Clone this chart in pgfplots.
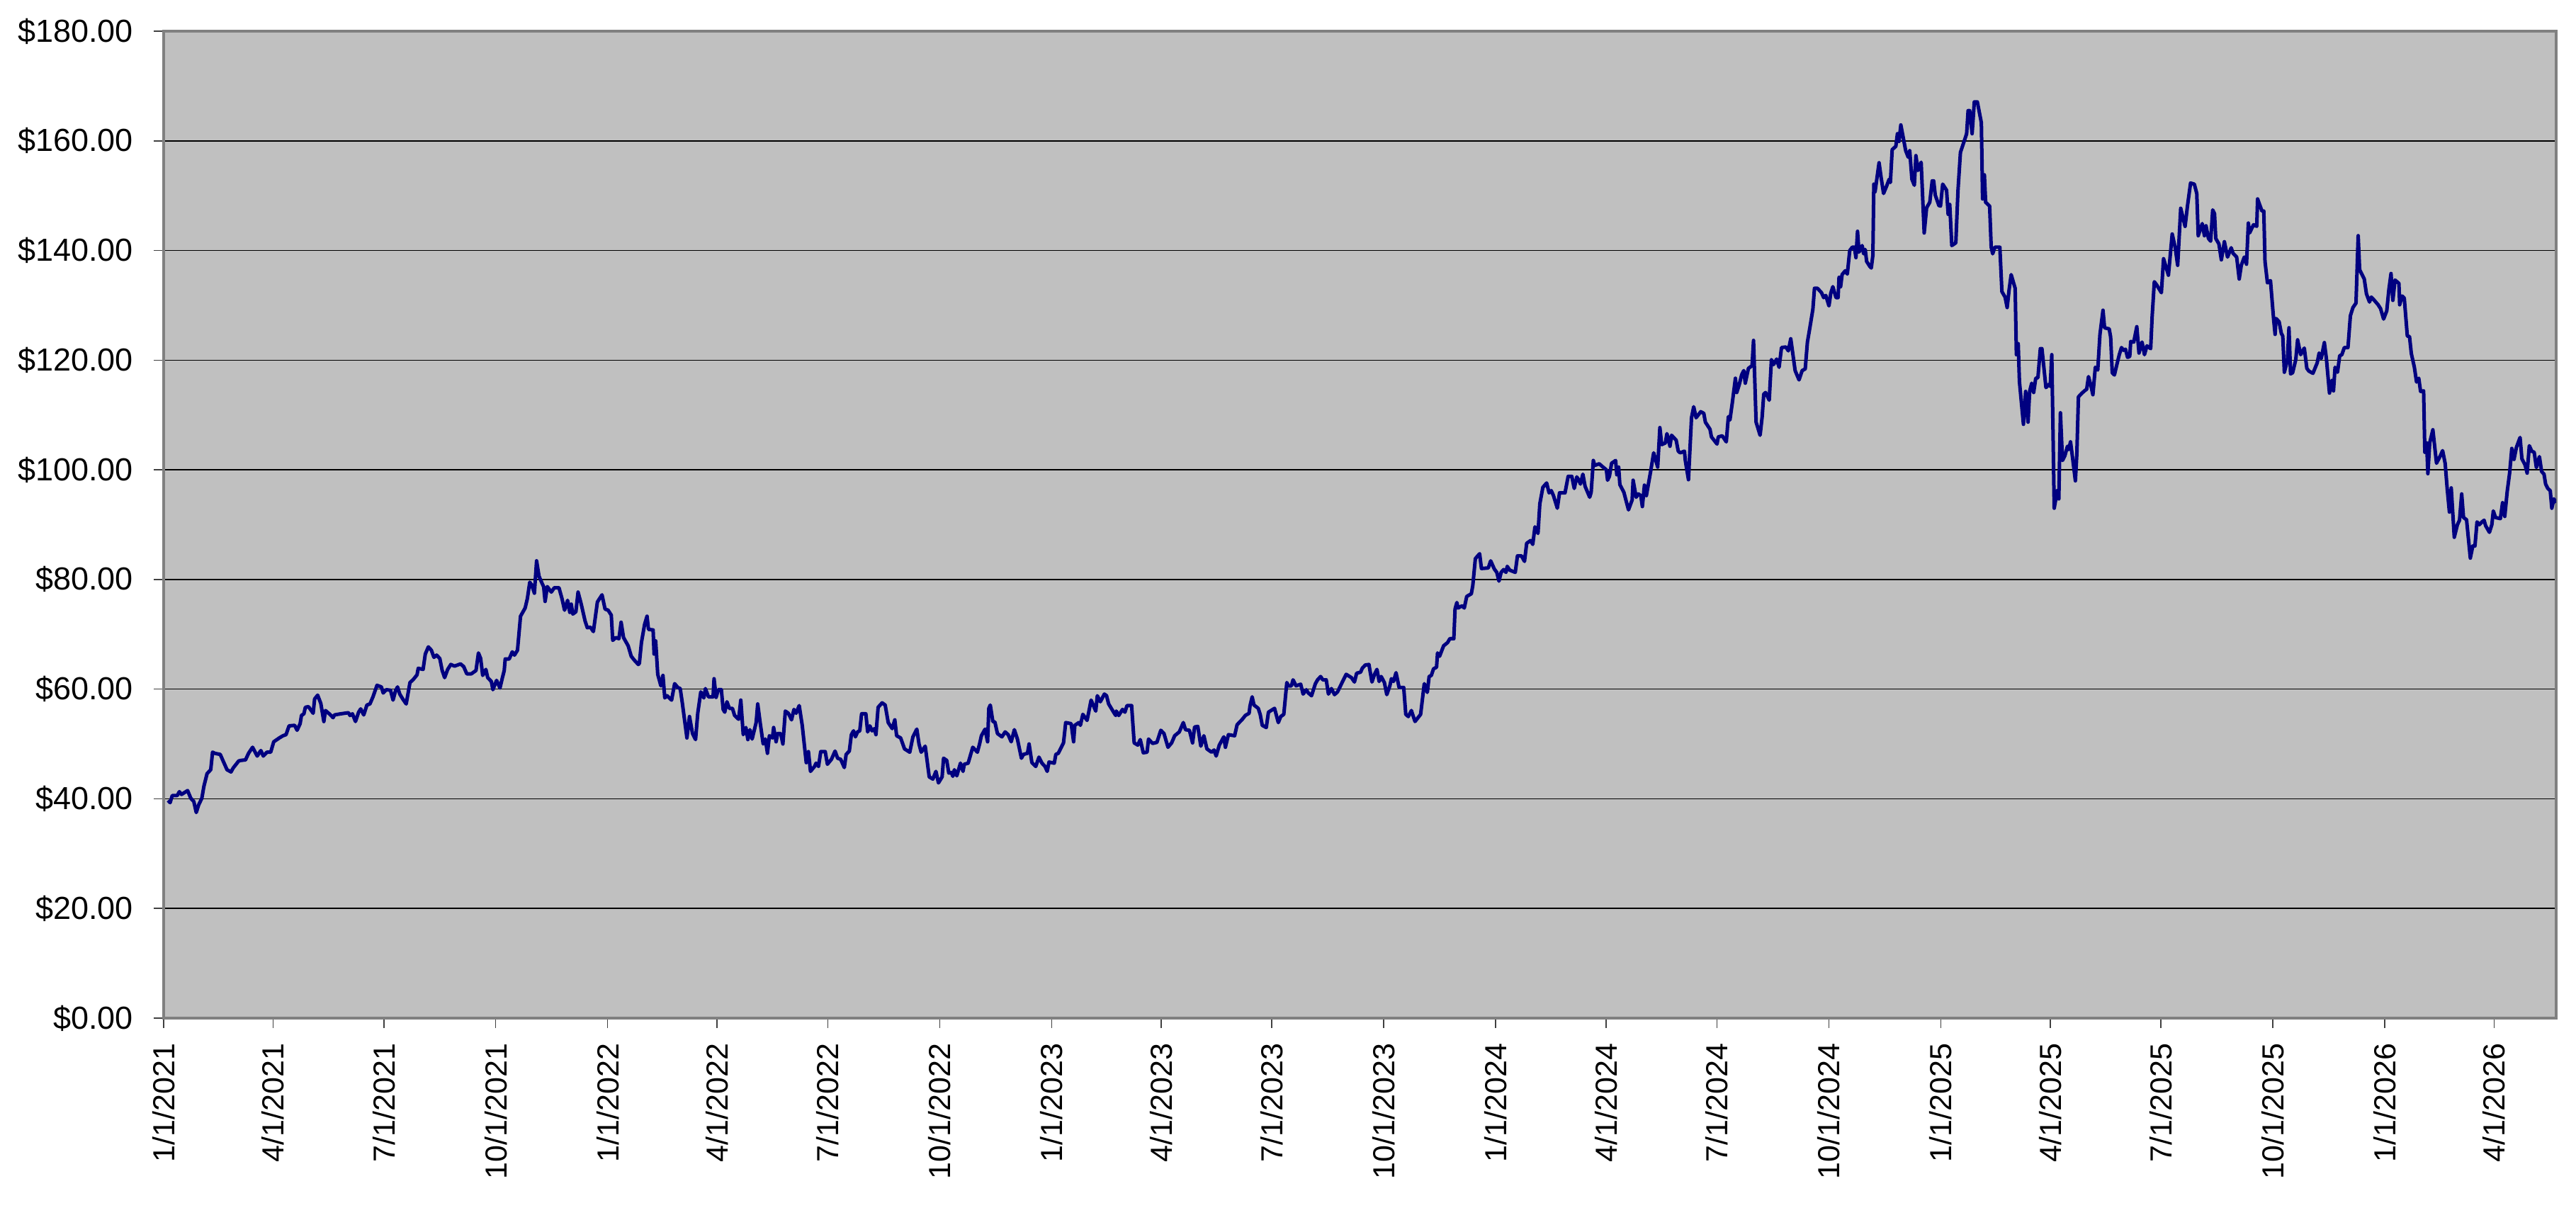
\documentclass[border=0pt]{standalone}
\usepackage{fontspec}
\setmainfont{Liberation Sans}
\usepackage{pgfplots}
\pgfplotsset{compat=1.18}
\definecolor{navyline}{RGB}{0,0,128}
\definecolor{plotbg}{RGB}{192,192,192}
\definecolor{framegray}{RGB}{128,128,128}
\begin{document}
\begin{tikzpicture}
\begin{axis}[name=ax, scale only axis, width=675.4pt, height=278.6pt,
  xmin=0, xmax=1967, ymin=0, ymax=180,
  axis background/.style={fill=plotbg},
  axis line style={draw=framegray, line width=0.9pt},
  ytick={0,20,40,60,80,100,120,140,160,180},
  yticklabels={\$0.00,\$20.00,\$40.00,\$60.00,\$80.00,\$100.00,\$120.00,\$140.00,\$160.00,\$180.00},
  xtick={0,90,181,273,365,455,546,638,730,820,911,1003,1095,1186,1277,1369,1461,1551,1642,1734,1826,1916},
  xticklabels={1/1/2021,4/1/2021,7/1/2021,10/1/2021,1/1/2022,4/1/2022,7/1/2022,10/1/2022,1/1/2023,4/1/2023,7/1/2023,10/1/2023,1/1/2024,4/1/2024,7/1/2024,10/1/2024,1/1/2025,4/1/2025,7/1/2025,10/1/2025,1/1/2026,4/1/2026},
  tick align=outside, major tick length=2.8pt,
  tick style={black!75, line width=0.3pt},
  xtick pos=left, ytick pos=left,
  ymajorgrids, grid style={black, line width=0.3pt},
  yticklabel style={font=\fontsize{9}{10.8}\selectfont, inner sep=0pt},
  xticklabel style={font=\fontsize{8.6}{10}\selectfont, rotate=90, anchor=east, inner sep=0pt},
  yticklabel shift=5.6pt, xticklabel shift=4.2pt,
]
\addplot[navyline, line width=1pt, line join=round] coordinates {
(3.6,39.7)(5.3,39.3)(7.1,40.6)(11.2,40.6)(12.9,41.3)(14.7,40.8)(19.7,41.5)(22.3,40.1)(24.8,39.5)(26.8,37.5)(28.8,38.9)(31.4,40.1)(33.1,42.3)(35.7,44.6)(38.7,45.3)(40.2,48.5)(42.0,48.3)(46.5,48.1)(52.1,45.3)(55.4,44.9)(57.1,45.6)(61.7,46.9)(63.5,47.0)(67.3,47.1)(69.8,48.3)(73.1,49.4)(76.9,47.8)(79.9,48.8)(81.9,47.8)(84.9,48.5)(88.0,48.5)(90.5,50.4)(95.1,51.1)(98.1,51.5)(100.6,51.7)(103.1,53.3)(107.7,53.4)(109.7,52.5)(112.2,53.7)(113.3,55.2)(115.3,55.5)(116.5,56.7)(119.1,56.8)(122.9,55.6)(124.1,58.2)(126.6,58.9)(129.2,57.4)(131.7,54.1)(133.0,56.1)(136.7,55.4)(139.3,54.8)(140.5,55.3)(145.6,55.5)(151.9,55.7)(153.2,55.2)(155.2,55.5)(157.7,54.1)(160.3,55.8)(162.0,56.4)(164.5,55.3)(167.1,57.1)(169.6,57.3)(172.1,58.6)(175.4,60.7)(179.0,60.4)(180.5,59.3)(183.0,59.9)(186.5,59.8)(188.6,58.0)(190.6,59.7)(192.3,60.4)(194.1,59.1)(196.6,58.2)(199.4,57.3)(202.5,61.2)(205.0,61.7)(208.3,62.6)(209.3,63.8)(213.3,63.6)(215.1,66.4)(217.6,67.7)(220.1,67.1)(222.2,65.8)(224.4,66.2)(227.0,65.6)(229.0,63.4)(231.0,62.1)(233.5,63.6)(236.1,64.5)(239.1,64.2)(244.1,64.6)(246.7,64.1)(249.2,62.8)(253.0,62.8)(256.8,63.4)(258.8,66.6)(260.6,65.6)(262.3,62.5)(264.9,63.6)(266.4,62.1)(269.4,61.4)(270.7,59.9)(273.7,61.6)(276.5,60.2)(278.3,61.9)(280.0,63.4)(280.8,65.5)(284.1,65.5)(286.6,66.8)(288.4,66.2)(290.9,67.1)(293.4,73.3)(297.2,74.8)(299.0,76.5)(301.0,79.5)(302.8,78.9)(304.8,77.5)(306.6,83.4)(308.6,80.6)(311.1,79.3)(312.4,78.7)(313.6,76.0)(315.4,78.7)(318.7,77.7)(321.2,78.5)(325.0,78.5)(327.5,76.5)(329.6,74.4)(332.1,76.2)(333.9,74.0)(335.1,75.5)(336.4,73.7)(338.9,74.1)(340.7,77.7)(343.2,75.6)(346.5,72.4)(348.3,71.2)(350.8,71.3)(353.3,70.5)(356.6,75.9)(360.4,77.2)(362.9,74.6)(365.4,74.4)(368.0,73.5)(369.2,68.9)(371.8,69.4)(374.3,69.2)(376.1,72.2)(378.1,69.4)(381.9,67.9)(384.4,66.0)(386.9,65.3)(390.2,64.5)
(391.1,64.7)(392.8,68.5)(395.4,71.8)(397.4,73.3)(398.6,70.9)(402.4,70.8)(403.2,66.4)(404.5,68.8)(406.2,62.7)(408.8,60.6)(410.5,62.5)(412.0,58.4)(413.8,58.8)(417.6,58.0)(420.1,61.0)(422.7,60.3)(424.7,60.1)(426.4,57.5)(430.2,51.1)(432.3,55.0)(434.8,51.9)(437.3,50.8)(439.1,55.6)(441.6,59.5)(444.1,58.4)(445.4,60.1)(447.9,58.6)(451.7,58.6)(452.5,61.9)(454.2,58.5)(456.0,59.9)(458.5,59.9)(460.0,56.3)(461.3,55.8)(463.1,57.7)(465.1,56.5)(467.6,56.5)(469.4,55.2)(472.7,54.5)(474.5,58.0)(476.5,51.7)(478.7,53.0)(480.3,50.8)(482.0,52.6)(483.8,50.9)(487.1,53.9)(488.4,57.3)(490.4,53.9)(492.9,50.0)(494.7,50.9)(496.4,48.3)(498.0,51.5)(500.5,51.1)(501.5,53.0)(503.5,50.4)(504.8,51.9)(507.3,51.9)(509.1,50.0)(511.1,56.0)(513.6,55.6)(516.2,54.4)(518.2,56.3)(520.0,55.6)(522.5,57.0)(525.0,53.4)(528.3,46.6)(530.1,48.6)(531.8,45.0)(535.1,45.9)(536.4,46.5)(538.4,45.9)(540.2,48.6)(543.9,48.6)(545.7,46.3)(549.0,47.2)(552.0,48.7)(554.1,47.4)(556.6,47.2)(559.6,45.7)(561.1,48.1)(563.7,48.7)(565.4,51.7)(567.2,52.4)(568.7,51.3)(570.5,52.2)(572.3,52.4)(573.8,55.5)(577.3,55.5)(578.8,52.2)(580.6,53.3)(582.4,52.4)(584.4,52.8)(585.6,51.7)(587.4,56.7)(590.7,57.5)(593.2,57.1)(595.7,53.9)(599.0,52.8)(601.1,54.4)(602.6,51.5)(605.9,51.1)(609.1,49.1)(613.4,48.5)(616.0,51.3)(619.2,52.7)(621.0,50.0)(622.8,48.5)(626.1,49.6)(629.4,44.0)(632.4,43.6)(634.9,45.0)(637.0,42.9)(640.0,44.0)(641.2,47.4)(643.8,47.0)(645.5,44.7)(647.6,44.8)(648.8,44.1)(650.1,45.3)(652.1,44.2)(655.1,46.5)(657.2,45.0)(658.2,46.3)(661.4,46.5)(665.2,49.4)(669.0,48.5)(670.8,50.0)(672.3,51.5)(675.3,52.7)(677.4,50.4)(678.4,56.5)(679.6,57.1)(681.7,54.1)(683.4,54.0)(685.5,51.9)(689.2,51.3)(691.8,52.2)(694.3,51.7)(696.8,50.4)(699.4,52.6)(701.9,50.9)(705.2,47.4)(706.9,48.1)(710.2,48.3)(711.5,50.0)(713.8,46.6)(717.0,45.9)(719.6,47.6)(722.1,46.5)(724.6,45.9)(726.4,45.0)(727.9,46.7)(732.2,46.5)(733.5,48.1)(735.5,48.3)(739.8,50.2)(741.6,53.9)(746.1,53.7)(748.1,50.4)(749.1,53.4)(752.4,53.9)(753.7,53.4)(755.7,55.4)(759.2,54.3)(762.5,58.0)(766.3,56.0)(767.6,58.8)(770.1,57.7)(773.4,59.1)(775.2,58.8)(776.9,57.3)(781.0,55.8)(782.7,55.2)
(783.2,56.0)(785.2,55.2)(788.3,56.3)(790.3,55.8)(792.0,57.0)(795.8,57.0)(797.9,50.2)(800.9,49.8)(802.9,50.8)(805.4,48.4)(808.5,48.5)(809.7,50.9)(813.0,50.1)(816.6,50.3)(819.8,52.5)(822.4,51.9)(825.7,49.4)(828.7,50.2)(831.2,51.5)(835.0,52.2)(838.3,53.9)(840.1,52.6)(843.3,52.5)(845.9,50.2)(847.6,53.1)(850.2,53.2)(852.7,49.6)(855.2,51.5)(857.7,49.1)(861.5,48.5)(863.6,48.9)(865.3,47.8)(867.9,49.8)(871.6,51.3)(872.9,49.4)(875.4,51.7)(880.5,51.5)(882.5,53.5)(886.8,54.5)(889.3,55.2)(892.4,55.6)(893.1,56.9)(894.9,58.6)(896.4,57.1)(899.9,56.5)(901.5,55.4)(903.2,53.4)(906.5,53.0)(908.3,55.8)(913.3,56.5)(916.4,53.9)(918.4,55.0)(920.9,55.4)(923.4,61.2)(924.7,60.6)(927.2,60.6)(928.5,61.7)(931.0,60.6)(934.8,60.9)(936.8,59.1)(939.4,59.9)(941.1,59.3)(943.7,58.8)(946.9,61.0)(948.7,61.7)(951.2,62.3)(953.0,61.7)(955.8,61.7)(957.6,59.1)(960.1,60.1)(962.6,59.0)(965.1,59.5)(969.7,61.6)(972.2,62.7)(976.5,62.1)(979.0,61.3)(980.8,62.9)(984.1,63.1)(985.4,63.8)(987.9,64.4)(990.9,64.5)(993.4,61.3)(995.5,62.7)(997.5,63.6)(999.3,61.4)(1001.0,62.3)(1003.6,61.2)(1005.6,59.0)(1008.1,60.6)(1009.4,61.9)(1011.1,61.4)(1013.2,63.0)(1015.7,60.3)(1019.5,60.3)(1021.2,55.4)(1023.3,55.0)(1025.8,56.1)(1028.8,54.1)(1033.4,55.4)(1036.4,61.0)(1038.9,59.4)(1040.4,62.3)(1042.2,62.5)(1044.0,63.7)(1046.5,64.0)(1047.3,66.6)(1049.0,66.0)(1052.3,67.9)(1055.6,68.5)(1057.4,69.2)(1060.7,69.2)(1061.7,74.6)(1063.2,75.8)(1064.2,74.8)(1067.5,75.2)(1069.3,74.8)(1071.3,76.9)(1075.1,77.4)(1076.3,78.9)(1078.4,83.8)(1081.9,84.7)(1083.4,82.0)(1089.0,82.1)(1091.0,83.4)(1094.0,81.9)(1096.0,81.3)(1097.8,79.7)(1099.6,81.3)(1101.6,81.8)(1103.6,81.3)(1104.6,82.4)(1106.7,81.7)(1111.2,81.3)(1113.0,84.3)(1116.3,84.3)(1118.8,83.3)(1120.6,86.6)(1123.8,87.1)(1125.6,86.4)(1127.4,89.6)(1129.9,88.4)(1131.4,93.8)(1133.9,96.8)(1137.0,97.6)(1139.0,95.8)(1140.8,96.2)(1142.6,95.3)(1145.8,93.0)(1147.6,95.8)(1152.1,95.8)(1154.7,98.8)(1157.7,98.8)(1159.7,96.6)(1161.8,98.7)(1163.5,98.1)(1164.8,97.4)(1166.8,99.2)(1168.6,97.0)(1172.4,95.0)(1173.6,95.9)(1175.4,101.7)
(1176.5,100.8)(1180.3,101.1)(1182.8,100.6)(1186.1,100.0)(1187.1,98.1)(1188.6,98.8)(1190.4,101.2)(1193.7,101.7)(1194.7,99.1)(1196.2,100.5)(1197.2,97.3)(1200.5,95.9)(1201.8,94.8)(1204.3,92.7)(1207.3,94.5)(1208.1,98.1)(1210.6,95.0)(1212.4,95.6)(1214.4,95.3)(1215.7,93.3)(1217.4,97.2)(1219.0,95.3)(1222.5,99.7)(1225.0,103.1)(1228.3,100.5)(1230.1,107.7)(1231.6,104.6)(1234.6,104.9)(1235.9,106.6)(1238.4,104.3)(1239.7,106.3)(1243.5,105.4)(1245.2,103.4)(1246.8,103.1)(1250.3,103.4)(1251.0,101.7)(1253.6,98.2)(1256.1,109.5)(1257.9,111.5)(1259.9,109.5)(1263.7,110.6)(1266.2,110.3)(1267.5,108.7)(1271.3,107.4)(1272.5,106.0)(1277.1,104.7)(1278.1,106.0)(1281.4,106.2)(1284.7,105.1)(1286.4,109.7)(1287.7,109.1)(1289.7,112.3)(1292.2,116.7)(1293.3,114.1)(1295.3,115.5)(1297.3,117.3)(1299.1,118.1)(1300.3,115.8)(1302.9,118.5)(1305.9,119.0)(1307.1,123.6)(1309.2,108.7)(1312.5,106.3)(1314.2,109.7)(1315.5,113.8)(1317.0,114.1)(1320.0,112.7)(1321.8,120.1)(1323.6,119.2)(1326.1,120.2)(1328.1,118.7)(1330.1,122.3)(1333.7,122.4)(1335.7,121.7)(1337.7,123.9)(1341.3,118.1)(1344.5,116.4)(1347.1,118.1)(1349.6,118.4)(1351.4,123.3)(1353.4,125.9)(1355.9,129.3)(1357.2,133.1)(1359.7,133.1)(1363.0,132.3)(1364.8,131.4)(1366.5,131.8)(1369.1,129.9)(1370.6,132.2)(1372.3,133.4)(1374.9,131.4)(1376.6,131.4)(1377.4,135.1)(1378.7,133.4)(1379.9,135.6)(1382.5,136.3)(1384.2,135.7)(1386.2,140.0)(1388.3,140.6)(1390.0,140.6)(1391.3,138.7)(1392.6,143.5)(1393.8,139.7)(1396.4,140.9)(1397.6,139.4)(1398.9,140.2)(1400.1,138.0)(1402.7,137.1)(1403.9,136.8)(1405.2,139.1)(1406.0,152.1)(1407.0,150.7)(1410.3,156.0)(1412.0,153.3)(1414.0,150.4)(1416.6,151.8)(1418.6,153.0)(1419.6,152.4)(1421.1,158.4)(1424.1,159.0)(1425.4,161.3)(1426.7,159.9)(1428.2,162.9)(1430.5,160.2)(1432.2,158.2)(1434.3,157.0)(1435.5,158.2)(1437.3,153.0)(1439.3,151.9)(1440.6,157.3)(1442.3,154.6)(1444.9,156.1)(1447.4,143.2)(1449.4,147.8)(1452.0,148.8)(1454.0,152.7)(1455.2,152.7)(1456.5,150.1)(1459.5,148.2)(1460.8,148.1)(1462.6,152.1)(1465.8,151.0)(1467.1,146.6)(1468.4,148.4)(1470.1,140.9)(1473.4,141.4)(1475.2,151.0)(1477.2,157.9)(1482.3,161.3)(1483.5,165.5)(1484.8,165.5)(1486.8,161.3)(1488.6,167.1)(1491.1,167.1)(1494.4,163.3)(1495.4,149.4)(1496.9,153.8)(1497.9,148.8)(1501.2,148.1)(1502.5,140.6)(1503.7,139.4)(1505.5,140.6)(1509.6,140.6)(1511.3,132.5)(1513.9,131.5)(1515.6,129.6)(1517.2,132.8)(1518.9,135.6)(1522.2,133.1)(1523.2,121.0)(1524.7,123.0)(1525.7,116.1)(1529.0,108.3)(1530.8,114.3)(1532.8,108.7)(1534.1,114.3)(1535.8,115.8)(1537.4,114.1)(1539.1,116.7)(1540.9,116.8)(1542.9,122.1)(1544.2,122.1)(1547.5,115.0)(1550.0,115.6)(1551.0,115.2)(1552.3,121.0)(1554.3,93.0)(1556.8,96.2)(1558.1,94.7)(1559.4,110.4)(1561.1,101.7)(1563.1,102.6)(1565.2,104.3)(1566.2,103.7)(1567.7,105.1)(1569.5,102.0)
(1571.7,98.0)(1572.9,102.9)(1574.2,113.3)(1576.7,113.9)(1579.2,114.4)(1581.0,114.7)(1582.5,117.0)(1584.3,115.5)(1586.1,113.7)(1588.1,118.7)(1590.1,118.2)(1591.9,124.7)(1594.4,129.1)(1595.7,125.9)(1599.5,125.7)(1600.7,124.2)(1602.0,117.7)(1603.8,117.3)(1605.8,119.2)(1607.8,121.0)(1609.6,122.3)(1611.3,121.8)(1612.9,122.0)(1614.6,120.5)(1616.4,120.7)(1617.2,123.4)(1619.7,123.3)(1622.2,126.1)(1624.0,121.3)(1626.5,123.3)(1628.5,121.0)(1630.5,122.6)(1633.6,122.1)(1634.8,127.9)(1636.6,134.3)(1638.6,133.7)(1642.4,132.3)(1644.2,138.5)(1648.2,135.5)(1651.3,143.0)(1653.8,140.5)(1655.8,137.3)(1658.3,147.7)(1661.9,144.4)(1663.9,148.2)(1666.4,152.3)(1669.5,152.1)(1671.5,150.4)(1672.7,142.7)(1676.0,144.9)(1677.8,142.7)(1679.1,144.5)(1681.1,142.2)(1682.9,141.7)(1684.6,147.4)(1686.1,146.7)(1687.1,142.2)(1689.7,141.2)(1691.7,138.3)(1694.2,141.6)(1696.8,138.8)(1699.8,140.5)(1701.3,139.5)(1704.3,138.8)(1706.4,134.8)(1708.1,137.3)(1710.6,138.8)(1712.4,137.5)(1713.9,145.0)(1714.9,143.2)(1718.2,144.7)(1720.8,144.4)(1721.5,149.4)(1725.1,147.2)(1726.6,147.2)(1727.6,138.0)(1729.6,134.1)(1732.1,134.5)(1734.7,127.4)(1735.9,124.7)(1736.7,127.6)(1739.2,127.0)(1741.0,124.9)(1742.2,124.4)(1743.5,117.8)(1746.0,120.0)(1747.3,125.9)(1748.6,117.5)(1750.3,117.7)(1752.9,120.1)(1754.4,123.7)(1756.9,121.0)(1759.9,122.2)(1762.0,118.5)(1763.7,118.0)(1767.0,117.6)(1770.5,119.5)(1772.1,121.3)(1773.8,120.3)(1776.4,123.2)(1778.1,120.2)(1780.6,114.0)(1782.7,116.3)(1783.9,114.4)(1785.2,118.7)(1787.2,117.8)(1789.0,120.8)(1790.8,121.0)(1792.8,122.3)(1795.8,122.3)(1797.8,128.1)(1799.9,129.6)(1802.4,130.4)(1804.2,142.7)(1805.4,136.5)(1809.2,134.8)(1811.0,132.1)(1813.5,130.6)(1815.0,131.5)(1817.5,130.9)(1820.6,130.1)(1822.6,129.4)(1825.1,127.5)(1827.7,129.0)(1829.4,132.8)(1831.2,135.8)(1832.7,130.9)(1834.5,134.6)(1837.7,134.0)(1838.3,130.1)(1840.3,131.7)(1842.1,131.3)(1844.6,124.4)(1846.4,124.3)(1847.9,121.2)(1850.4,118.7)(1852.2,116.0)(1854.0,116.7)(1855.5,114.3)(1858.0,114.4)(1859.0,103.2)(1860.5,104.9)(1861.5,99.3)(1863.0,104.9)(1865.6,107.3)(1868.6,101.2)(1871.6,102.5)(1873.6,103.5)(1875.7,101.2)(1877.4,96.5)(1879.2,92.3)(1880.7,96.7)(1883.2,87.7)(1885.8,90.0)(1887.5,90.8)(1889.3,95.6)(1890.8,91.3)(1893.3,90.9)(1896.4,83.9)(1898.4,86.1)(1900.2,86.1)(1901.9,90.5)(1903.9,90.0)(1906.0,90.5)(1907.7,90.8)(1909.0,89.8)(1912.1,88.6)(1914.1,90.0)(1915.3,92.5)(1917.1,91.3)(1921.1,91.1)(1922.9,94.0)(1924.7,91.5)(1926.7,96.0)(1928.7,99.4)(1930.5,103.9)(1932.3,101.9)(1934.3,104.1)(1937.3,105.9)(1938.8,102.0)(1941.4,100.9)(1943.1,99.4)(1944.9,104.4)(1946.9,103.4)(1948.9,103.2)(1950.7,100.4)(1953.2,102.4)(1955.0,99.7)(1957.0,99.2)(1958.3,97.4)(1960.1,96.6)(1962.1,96.2)(1963.4,93.0)(1965.1,94.7)(1967,94.0)
};
\end{axis}
\pgfresetboundingbox
\path[use as bounding box] (ax.south west) ++(-46.2pt,-58.2pt) rectangle ++(727.2pt,345.6pt);
\end{tikzpicture}
\end{document}
